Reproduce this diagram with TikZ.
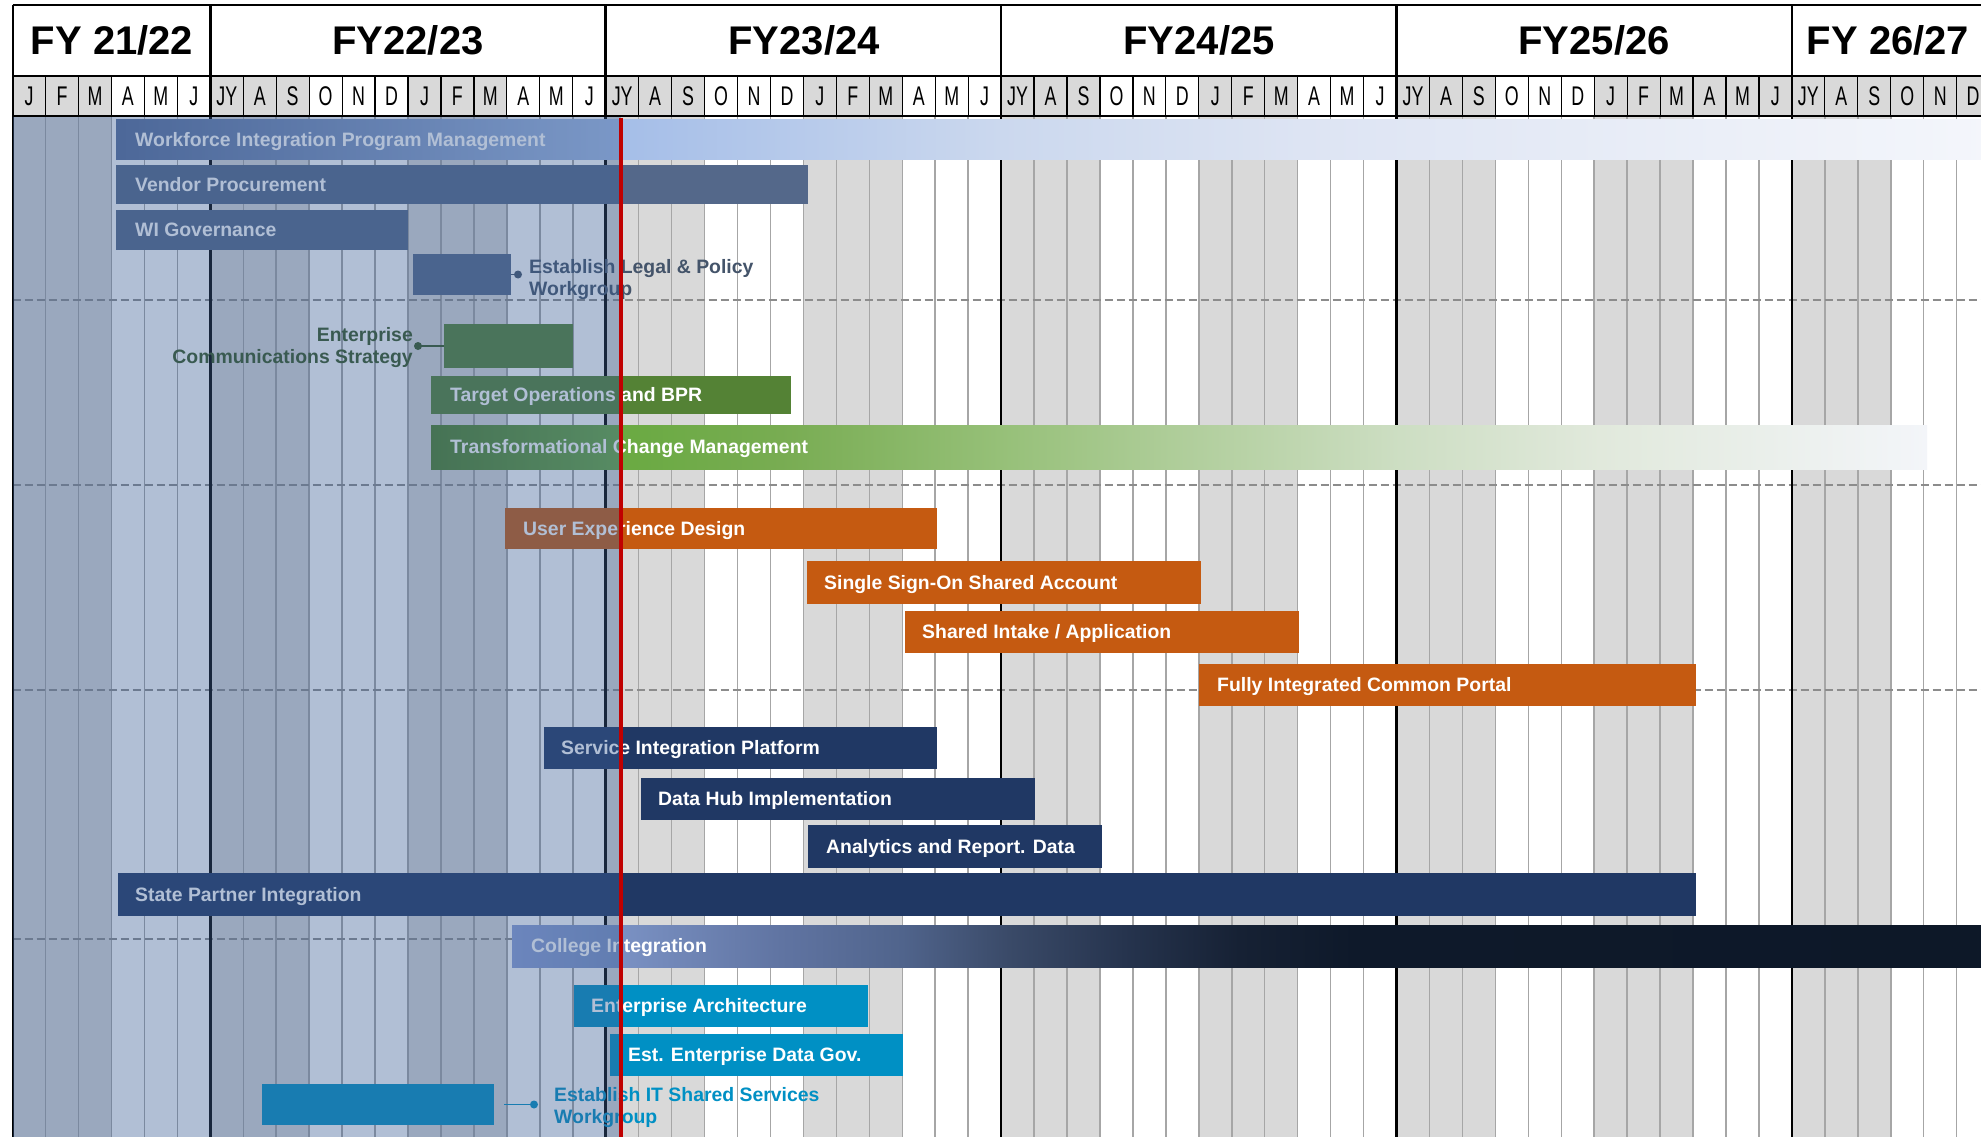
\documentclass[tikz,border=0pt]{standalone}
\usepackage{fontspec}
\setmainfont{Liberation Sans}
\newfontfamily\narrowfont[FakeStretch=0.66]{Liberation Sans}

\definecolor{cellgray}{RGB}{217,217,217}
\definecolor{gridgray}{RGB}{166,166,166}
\definecolor{dashgray}{RGB}{140,140,140}
\definecolor{slateblue}{RGB}{84,104,138}
\definecolor{slatetext}{RGB}{68,84,106}
\definecolor{leafgreen}{RGB}{84,130,53}
\definecolor{darkgreen}{RGB}{56,87,35}
\definecolor{rust}{RGB}{197,90,17}
\definecolor{navy}{RGB}{32,56,100}
\definecolor{cyanblue}{RGB}{0,144,196}
\definecolor{pastblue}{RGB}{60,95,150}
\definecolor{todayred}{RGB}{192,0,0}

% gradient stops
\definecolor{wipmA}{RGB}{88,110,155}
\definecolor{wipmB}{RGB}{165,190,232}
\definecolor{wipmC}{RGB}{203,216,238}
\definecolor{wipmD}{RGB}{221,228,243}
\definecolor{wipmE}{RGB}{244,246,251}
\definecolor{tcmA}{RGB}{77,128,42}
\definecolor{tcmB}{RGB}{106,170,66}
\definecolor{tcmC}{RGB}{120,172,82}
\definecolor{tcmD}{RGB}{150,192,120}
\definecolor{tcmE}{RGB}{178,207,158}
\definecolor{tcmF}{RGB}{205,222,195}
\definecolor{tcmG}{RGB}{225,233,220}
\definecolor{tcmH}{RGB}{243,245,249}
\definecolor{colA}{RGB}{140,160,215}
\definecolor{colB}{RGB}{122,145,195}
\definecolor{colC}{RGB}{96,116,162}
\definecolor{colD}{RGB}{80,100,140}
\definecolor{colE}{RGB}{58,74,104}
\definecolor{colF}{RGB}{38,52,78}
\definecolor{colG}{RGB}{22,33,52}
\definecolor{colH}{RGB}{14,25,42}
\definecolor{colI}{RGB}{13,24,40}

\pgfdeclarehorizontalshading{wipmshade}{100bp}{color(0bp)=(wipmA); color(25bp)=(wipmA);
  color(38.5bp)=(wipmB); color(48.6bp)=(wipmC); color(56.6bp)=(wipmD);
  color(75bp)=(wipmE); color(100bp)=(wipmE)}
\pgfdeclarehorizontalshading{tcmshade}{100bp}{color(0bp)=(tcmA); color(25bp)=(tcmA);
  color(31.4bp)=(tcmB); color(36.7bp)=(tcmC); color(44bp)=(tcmD); color(50.7bp)=(tcmE);
  color(57.4bp)=(tcmF); color(64.1bp)=(tcmG); color(75bp)=(tcmH); color(100bp)=(tcmH)}
\pgfdeclarehorizontalshading{collegeshade}{100bp}{color(0bp)=(colA); color(25bp)=(colA);
  color(28.7bp)=(colB); color(34.1bp)=(colC); color(38.2bp)=(colD); color(41.8bp)=(colE);
  color(45.7bp)=(colF); color(49.6bp)=(colG); color(53.5bp)=(colH); color(75bp)=(colI);
  color(100bp)=(colI)}

\begin{document}
\begin{tikzpicture}[x=1pt,y=-1pt,
  barlabel/.style={anchor=base west,inner sep=0pt,text=white,font=\fontsize{19.4}{23}\selectfont\bfseries},
  mslabel/.style={inner sep=0pt,font=\fontsize{19.4}{22.5}\selectfont\bfseries},
  msbox/.style={anchor=north west,inner sep=0pt,outer sep=0pt},
  fylabel/.style={anchor=base,font=\fontsize{40}{48}\selectfont\bfseries},
  monlabel/.style={anchor=base,inner sep=0pt,font=\narrowfont\fontsize{27}{30}\selectfont},
  gridline/.style={gridgray,line width=1.5pt},
  rowsep/.style={dashgray,line width=2pt,dash pattern=on 8pt off 4pt}]
  \useasboundingbox[fill=white] (0,0) rectangle (1981,1137);

  % quarter shading, body and header
  \foreach \q in {0,2,...,18}
    \fill[cellgray] ({12.6+98.85*\q},116) rectangle ({12.6+98.85*(\q+1)},1140);
  \foreach \q in {0,2,4,6,8,10,12,14,16,17,18,19}
    \fill[cellgray] ({12.6+98.85*\q},76) rectangle ({12.6+98.85*(\q+1)},116);

  \foreach \m in {1,...,59}
    \draw[gridline] ({12.6+32.95*\m},116) -- ({12.6+32.95*\m},1140);
  \foreach \m in {1,...,59}
    \draw[line width=1.2pt] ({12.6+32.95*\m},76) -- ({12.6+32.95*\m},116);

  \foreach \y in {300,485,690,939}
    \draw[rowsep] (12.6,\y) -- (1985,\y);

  % frame and fiscal years
  \draw[line width=2pt] (12.6,5) -- (1985,5);
  \draw[line width=2pt] (12.6,76) -- (1985,76);
  \draw[line width=2pt] (12.6,116) -- (1985,116);
  \draw[line width=2pt] (12.6,5) -- (12.6,1140);
  \foreach \f in {6,18,30,42,54}
    \draw[line width=2.5pt] ({12.6+32.95*\f},5) -- ({12.6+32.95*\f},1140);

  \node[fylabel] (fy1) at (112,55) {FY 21/22};
  \node[fylabel] (fy2) at (408,55) {FY22/23};
  \node[fylabel] (fy3) at (804,55) {FY23/24};
  \node[fylabel] (fy4) at (1199,55) {FY24/25};
  \node[fylabel] (fy5) at (1594,55) {FY25/26};
  \node[fylabel] (fy6) at (1888,55) {FY 26/27};

  \foreach \yr in {0,...,4}
    \foreach \k/\t in {0/J,1/F,2/M,3/A,4/M,5/J,6/JY,7/A,8/S,9/O,10/N,11/D}
      \node[monlabel] (mon\yr-\k) at ({12.6+32.95*(12*\yr+\k+0.5)},105.7) {\t};

  % program management
  \shade[shading=wipmshade] (116,120) rectangle (1990,160);
  \node[barlabel] (wipm) at (135,146.6) {Workforce Integration Program Management};
  \fill[slateblue] (116,165) rectangle (808,204);
  \node[barlabel] (vendor) at (135,191.1) {Vendor Procurement};
  \fill[slateblue] (116,210) rectangle (408,250);
  \node[barlabel] (gov) at (135,236.6) {WI Governance};
  \node[msbox,fill=slateblue,minimum width=98pt,minimum height=41pt] (legalbox) at (413,254) {};
  \coordinate (legaldot) at ([xshift=7pt]legalbox.east);
  \draw[slatetext,line width=1.5pt] (legalbox.east) -- (legaldot);
  \fill[slatetext] (legaldot) circle (4pt);
  \node[mslabel,anchor=north west,align=left,text=slatetext] (legallabel) at (529,259)
    {Establish Legal \& Policy\\Workgroup};

  % change management
  \node[msbox,fill=leafgreen,minimum width=129pt,minimum height=44pt] (commbox) at (444,324) {};
  \coordinate (commdot) at ([xshift=-26pt]commbox.west);
  \draw[darkgreen,line width=1.5pt] (commbox.west) -- (commdot);
  \fill[darkgreen] (commdot) circle (4pt);
  \node[mslabel,anchor=north east,align=right,text=darkgreen] (commlabel) at (413,327)
    {Enterprise\\Communications Strategy};
  \fill[leafgreen] (431,376) rectangle (791,414);
  \node[barlabel] (targetops) at (450,401.6) {Target Operations and BPR};
  \shade[shading=tcmshade] (431,425) rectangle (1927,469);
  \node[barlabel] (tcm) at (450,453.6) {Transformational Change Management};

  % customer experience
  \fill[rust] (505,508) rectangle (937,549);
  \node[barlabel] (uxd) at (523,535.1) {User Experience Design};
  \fill[rust] (807,561) rectangle (1201,604);
  \node[barlabel] (sso) at (824,589.1) {Single Sign-On Shared Account};
  \fill[rust] (905,611) rectangle (1299,653);
  \node[barlabel] (intake) at (922,638.6) {Shared Intake / Application};
  \fill[rust] (1199,664) rectangle (1696,706);
  \node[barlabel] (portal) at (1217,691.6) {Fully Integrated Common Portal};

  % data and integration
  \fill[navy] (544,727) rectangle (937,769);
  \node[barlabel] (sip) at (561,754.6) {Service Integration Platform};
  \fill[navy] (641,778) rectangle (1035,820);
  \node[barlabel] (datahub) at (658,805.6) {Data Hub Implementation};
  \fill[navy] (808,825) rectangle (1102,868);
  \node[barlabel] (analytics) at (826,853.1) {Analytics and Report. Data};
  \fill[navy] (118,873) rectangle (1696,916);
  \node[barlabel] (statepartner) at (135,901.1) {State Partner Integration};
  \shade[shading=collegeshade] (512,925) rectangle (1990,967);
  \node[barlabel] (college) at (531,952.6) {College Integration};

  % enterprise IT
  \fill[cyanblue] (574,985) rectangle (868,1027);
  \node[barlabel] (entarch) at (591,1012.6) {Enterprise Architecture};
  \fill[cyanblue] (610,1034) rectangle (903,1076);
  \node[barlabel] (datagov) at (628,1061.6) {Est. Enterprise Data Gov.};
  \node[msbox,fill=cyanblue,minimum width=232pt,minimum height=41pt] (itbox) at (262,1084) {};
  \coordinate (itstub) at ([xshift=10pt]itbox.east);
  \coordinate (itdot) at ([xshift=40pt]itbox.east);
  \draw[cyanblue,line width=1.5pt] (itstub) -- (itdot);
  \fill[cyanblue] (itdot) circle (4pt);
  \node[mslabel,anchor=north west,align=left,text=cyanblue] (itlabel) at (554,1087)
    {Establish IT Shared Services\\Workgroup};

  % elapsed time and today
  \fill[pastblue,opacity=0.4] (12.6,117) rectangle (621,1140);
  \draw[todayred,line width=4.5pt] (621,118) -- (621,1140);
\end{tikzpicture}
\end{document}
